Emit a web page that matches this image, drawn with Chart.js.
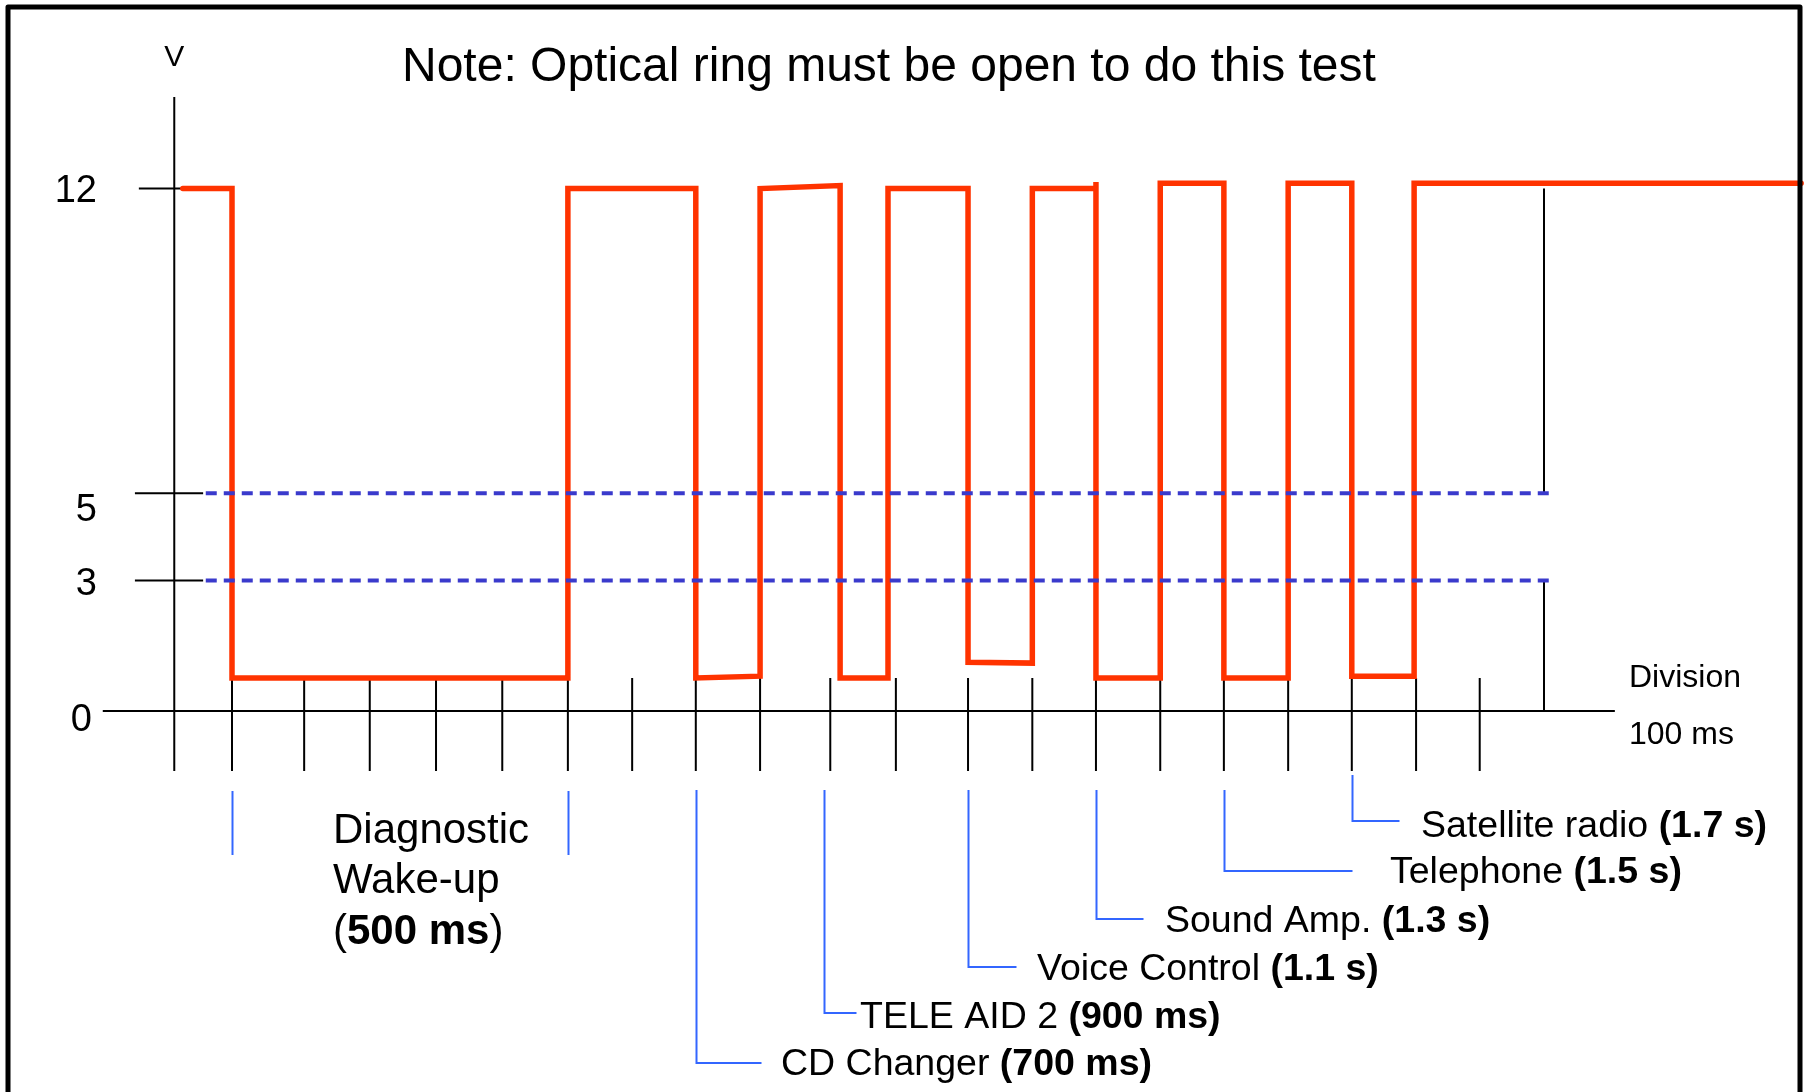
<!DOCTYPE html>
<html>
<head>
<meta charset="utf-8">
<title>Optical ring wake-up test</title>
<script src="https://cdn.jsdelivr.net/npm/chart.js@4.4.1/dist/chart.umd.min.js"></script>
<style>
  html, body { margin: 0; padding: 0; background: #fff; }
  #wrap { position: relative; width: 1809px; height: 1092px; }
</style>
</head>
<body>
<div id="wrap"><canvas id="myChart"></canvas></div>
<script>
// time in ms from the first falling edge, level in volts
const waveMs    = [-75, 0, 0, 512, 512, 707, 707, 805, 805, 927, 927, 1000, 1000, 1122, 1122, 1220, 1220, 1317, 1317, 1317, 1415, 1415, 1512, 1512, 1610, 1610, 1707, 1707, 1802, 1802, 2392];
const waveVolts = [12, 12, 0.76, 0.76, 12, 12, 0.76, 0.8, 12, 12.07, 0.76, 0.76, 12, 12, 1.12, 1.1, 12, 12, 12.15, 0.76, 0.76, 12.12, 12.12, 0.76, 0.76, 12.12, 12.12, 0.8, 0.8, 12.12, 12.12];

// 100 ms division marks as drawn
const divisionMs = [0, 110, 210, 311, 412, 512, 610, 707, 805, 912, 1012, 1122, 1220, 1317, 1415, 1512, 1610, 1707, 1805, 1902];
const endMarkMs = 2000;

const thresholdVolts = [5, 3];
const yTickValues = [12, 5, 3, 0];
const yTickLabels = ['12', '5', '3', '0'];

const wakeupMs = [0, 512];
const wakeupLines = ['Diagnostic', 'Wake-up'];
const wakeupDuration = '500 ms';

const moduleNames  = ['CD Changer', 'TELE AID 2', 'Voice Control', 'Sound Amp.', 'Telephone', 'Satellite radio'];
const moduleDelays = ['700 ms', '900 ms', '1.1 s', '1.3 s', '1.5 s', '1.7 s'];
const moduleMs     = [707, 902, 1122, 1317, 1512, 1707];

// layout (pixels / axis extents), not data
const FONT = '"Liberation Sans", Arial, Helvetica, sans-serif';
const yAxisMs = -88;
const tickTopV = 0.76, tickBottomV = -1.38;
const calloutRows = [ // baseline, connector y, connector length, text x, vertical top
  { base: 1075, lineY: 1063, len: 65,  textX: 781,  top: 790 },
  { base: 1028, lineY: 1013, len: 32,  textX: 860,  top: 790 },
  { base: 980,  lineY: 967,  len: 48,  textX: 1037, top: 790 },
  { base: 932,  lineY: 919,  len: 47,  textX: 1165, top: 790 },
  { base: 883,  lineY: 871,  len: 128, textX: 1390, top: 790 },
  { base: 837,  lineY: 821,  len: 47,  textX: 1421, top: 775 }
];
const tickNudge = [[0, 0], [0, 15], [0, 2], [-5, 7]];

const pts = (xs, ys) => xs.map((x, i) => ({ x: x, y: ys[i] }));
function segments(list) {
  const out = [];
  list.forEach(s => {
    out.push({ x: s[0], y: s[1] }, { x: s[2], y: s[3] }, { x: s[2], y: null });
  });
  return out;
}

const blackSegs = [
  [yAxisMs, 14.1, yAxisMs, tickBottomV],
  [-197, 0, 2108, 0],
  [-142, yTickValues[0], -75, yTickValues[0]],
  [-148, yTickValues[1], -44, yTickValues[1]],
  [-148, yTickValues[2], -44, yTickValues[2]],
  [endMarkMs, 12, endMarkMs, thresholdVolts[0]],
  [endMarkMs, thresholdVolts[1], endMarkMs, 0]
].concat(divisionMs.map(t => [t, tickTopV, t, tickBottomV]));

const dashSegs = thresholdVolts.map(v => [-40, v, 2011, v]);

function drawRuns(ctx, runs, x, y, size) {
  let cx = x;
  runs.forEach(([txt, bold]) => {
    ctx.font = (bold ? 'bold ' : '') + size + 'px ' + FONT;
    ctx.fillText(txt, cx, y);
    cx += ctx.measureText(txt).width;
  });
}

const decor = {
  id: 'decor',
  beforeDraw(chart) {
    const ctx = chart.ctx;
    ctx.save();
    ctx.fillStyle = '#fff';
    ctx.fillRect(0, 0, chart.width, chart.height);
    ctx.restore();
  },
  afterDraw(chart) {
    const { ctx, scales: { x, y } } = chart;
    ctx.save();
    ctx.fillStyle = '#000';
    ctx.textAlign = 'left';
    ctx.textBaseline = 'alphabetic';

    // title and axis names
    ctx.font = '48px ' + FONT;
    ctx.fillText('Note: Optical ring must be open to do this test', 402, 81);
    ctx.font = '30px ' + FONT;
    ctx.textAlign = 'center';
    ctx.fillText('V', x.getPixelForValue(yAxisMs), 66);

    ctx.textAlign = 'right';
    ctx.font = '38px ' + FONT;
    yTickValues.forEach((v, i) => {
      ctx.fillText(yTickLabels[i], 97 + tickNudge[i][0], y.getPixelForValue(v) + 13 + tickNudge[i][1]);
    });

    ctx.textAlign = 'left';
    ctx.font = '32px ' + FONT;
    ctx.fillText('Division', 1629, 687);
    ctx.fillText('100 ms', 1629, 744);

    // wake-up bracket
    ctx.strokeStyle = '#3366ff';
    ctx.lineWidth = 2;
    wakeupMs.forEach(t => {
      const px = Math.round(x.getPixelForValue(t)) + 0.5;
      ctx.beginPath();
      ctx.moveTo(px, 791);
      ctx.lineTo(px, 855);
      ctx.stroke();
    });
    ctx.font = '42px ' + FONT;
    ctx.fillText(wakeupLines[0], 333, 843);
    ctx.fillText(wakeupLines[1], 333, 893);
    drawRuns(ctx, [['(', false], [wakeupDuration, true], [')', false]], 333, 944, 42);

    // module call-outs
    moduleMs.forEach((t, i) => {
      const r = calloutRows[i];
      const px = Math.round(x.getPixelForValue(t)) + 0.5;
      ctx.beginPath();
      ctx.moveTo(px, r.top);
      ctx.lineTo(px, r.lineY);
      ctx.lineTo(px + r.len, r.lineY);
      ctx.stroke();
      drawRuns(ctx, [[moduleNames[i] + ' ', false], ['(' + moduleDelays[i] + ')', true]], r.textX, r.base, 37.5);
    });

    // frame
    ctx.strokeStyle = '#000';
    ctx.lineWidth = 5;
    ctx.lineJoin = 'round';
    ctx.strokeRect(8, 7, 1792, 1200);
    ctx.restore();
  }
};

const ctx = document.getElementById('myChart').getContext('2d');
const myChart = new Chart(ctx, {
  type: 'scatter',
  data: {
    datasets: [
      {
        label: 'thresholds',
        data: segments(dashSegs),
        showLine: true,
        borderColor: '#3a3acc',
        borderWidth: 4,
        borderDash: [11, 7],
        spanGaps: false,
        order: 0
      },
      {
        label: 'signal',
        data: pts(waveMs, waveVolts),
        showLine: true,
        borderColor: '#ff3300',
        borderWidth: 5.5,
        borderCapStyle: 'round',
        borderJoinStyle: 'miter',
        order: 1
      },
      {
        label: 'axes',
        data: segments(blackSegs),
        showLine: true,
        borderColor: '#000',
        borderWidth: 2,
        spanGaps: false,
        order: 2
      }
    ]
  },
  options: {
    responsive: true,
    maintainAspectRatio: false,
    animation: false,
    devicePixelRatio: 1,
    layout: { padding: 0 },
    elements: { point: { radius: 0, hoverRadius: 0 }, line: { tension: 0 } },
    plugins: { legend: { display: false }, tooltip: { enabled: false } },
    scales: {
      x: { type: 'linear', display: false, min: -353.66, max: 2403.96 },
      y: { type: 'linear', display: false, min: -8.75, max: 16.33 }
    }
  },
  plugins: [decor]
});
</script>
</body>
</html>
